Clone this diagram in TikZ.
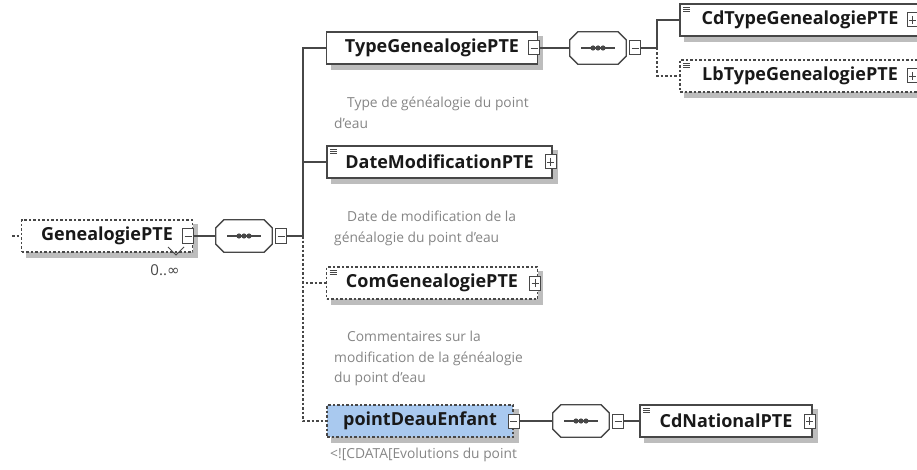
\documentclass[tikz,border=0pt]{standalone}
\usepackage{fontspec}
\setmainfont{Open Sans}
\newfontfamily\dvsans{DejaVu Sans}
\usetikzlibrary{backgrounds}

\definecolor{linegray}{HTML}{474747}
\definecolor{descgray}{HTML}{858585}
\definecolor{shadowgray}{HTML}{BDBDBD}
\definecolor{selblue}{HTML}{A9C9EF}

\begin{document}
\begin{tikzpicture}[x=1pt,y=-1pt,
    conn/.style={draw=linegray,line width=1.3pt},
    opt/.style={conn,dash pattern=on 2.5pt off 2pt},
    elem/.style={draw=linegray,line width=1.3pt,fill=white,minimum height=32pt,inner sep=0pt,
        text=black!90,font=\fontsize{18}{20}\selectfont\bfseries},
    optelem/.style={elem,dash pattern=on 2.5pt off 2pt},
    simple/.style={path picture={\foreach \k in {0,2,4}
        \draw[solid,linegray,line width=0.6pt] ([xshift=3pt,yshift={-(3+\k)*1pt}]path picture bounding box.north west) -- ++(7,0);}},
    pmbox/.style={draw=linegray,line width=1pt,fill=white,minimum width=11pt,minimum height=14pt,inner sep=0pt},
    minus/.style={pmbox,path picture={\draw[linegray,line width=0.9pt]
        ([xshift=2pt]path picture bounding box.west) -- ([xshift=-2pt]path picture bounding box.east);}},
    plus/.style={pmbox,path picture={\draw[linegray,line width=0.9pt]
        ([xshift=2pt]path picture bounding box.west) -- ([xshift=-2pt]path picture bounding box.east)
        ([yshift=-3pt]path picture bounding box.north) -- ([yshift=3pt]path picture bounding box.south);}},
    seq/.style={minimum width=56pt,minimum height=32pt,inner sep=0pt},
    desc/.style={anchor=north west,align=left,inner sep=0pt,text=descgray,font=\fontsize{13.8}{20.5}\selectfont},
    mult/.style={inner sep=0pt,text=linegray,font=\fontsize{15}{17}\selectfont}]
    \useasboundingbox (0,0) rectangle (917,470);
    \clip (0,0) rectangle (917,470);

    % root element
    \node[optelem,minimum width=171pt] (gen) at (107,236) {GenealogiePTE};
    \node[minus] (genm) at ([xshift=-5pt]gen.east) {};
    \node[mult] (genmult) at (165,270) {0..{\dvsans ∞}};
    \coordinate (genin) at (12,236);

    % children of the first sequence
    \node[seq] (seq1) at (244,236) {};
    \coordinate (bus1) at (303,236);

    \node[elem,minimum width=211pt] (type) at (432,48) {TypeGenealogiePTE};
    \node[minus] (typem) at ([xshift=-4pt]type.east) {};
    \node[desc] (typedoc) at (334,97) {\hspace*{13pt}Type de généalogie du point\\d'eau};

    \node[elem,simple,minimum width=225pt] (date) at (439.5,162) {DateModificationPTE};
    \node[plus] (datem) at ([xshift=-2pt]date.east) {};
    \node[desc] (datedoc) at (334,211) {\hspace*{13pt}Date de modification de la\\généalogie du point d'eau};

    \node[optelem,simple,minimum width=211pt] (com) at (432,283) {ComGenealogiePTE};
    \node[plus] (comm) at ([xshift=-3pt]com.east) {};
    \node[desc] (comdoc) at (334,331) {\hspace*{13pt}Commentaires sur la\\modification de la généalogie\\du point d'eau};

    \node[optelem,fill=selblue,minimum width=186pt] (pde) at (420,421) {pointDeauEnfant};
    \node[minus] (pdem) at (pde.east) {};
    \node[desc] (pdedoc) at (330,448) {<![CDATA[Evolutions du point};

    % second sequence
    \node[seq] (seq2) at (598,48) {};
    \coordinate (bus2) at (657,48);
    \node[elem,simple,minimum width=240pt] (cdtype) at (800,20) {CdTypeGenealogiePTE};
    \node[plus] (cdtypem) at ([xshift=-8pt]cdtype.east) {};
    \node[optelem,simple,minimum width=240pt] (lbtype) at (800,76) {LbTypeGenealogiePTE};
    \node[plus] (lbtypem) at ([xshift=-8pt]lbtype.east) {};

    % third sequence
    \node[seq] (seq3) at (581,421) {};
    \node[elem,simple,minimum width=172pt] (cdnat) at (726,421) {CdNationalPTE};
    \node[plus] (cdnatm) at ([xshift=-3pt]cdnat.east) {};

    % shadows
    \begin{scope}[on background layer]
        \foreach \n in {gen,type,date,com,pde,cdtype,lbtype,cdnat}
            \fill[shadowgray] ([shift={(5,5)}]\n.north west) rectangle ([shift={(5,5)}]\n.south east);
    \end{scope}
    \draw[linegray,line width=1pt] (168,247) -- (176,255) -- (184,247);

    % compositors
    \foreach \s in {seq1,seq2,seq3} {
        \fill[shadowgray,shift={(5,5)}] ([xshift=8pt]\s.north west) -- ([xshift=-8pt]\s.north east)
            -- ([yshift=-8pt]\s.north east) -- ([yshift=8pt]\s.south east) -- ([xshift=-8pt]\s.south east)
            -- ([xshift=8pt]\s.south west) -- ([yshift=8pt]\s.south west) -- ([yshift=-8pt]\s.north west) -- cycle;
        \draw[conn,fill=white] ([xshift=8pt]\s.north west) -- ([xshift=-8pt]\s.north east)
            -- ([yshift=-8pt]\s.north east) -- ([yshift=8pt]\s.south east) -- ([xshift=-8pt]\s.south east)
            -- ([xshift=8pt]\s.south west) -- ([yshift=8pt]\s.south west) -- ([yshift=-8pt]\s.north west) -- cycle;
        \draw[conn] ([xshift=-17pt]\s.center) -- ([xshift=17pt]\s.center);
        \foreach \d in {-5,0,5}
            \fill[linegray] ([xshift=\d*1pt]\s.center) circle (2.6);
    }
    \node[minus] (seq1m) at ([xshift=9pt]seq1.east) {};
    \node[minus] (seq2m) at ([xshift=9pt]seq2.east) {};
    \node[minus] (seq3m) at ([xshift=9pt]seq3.east) {};

    \draw[opt] (genin) -- (gen);
    \draw[conn] (genm) -- (seq1);
    \draw[conn] (seq1m) -- (bus1);
    \draw[conn] (bus1) |- (type);
    \draw[conn] (bus1) |- (date);
    \draw[opt] (bus1) |- (com);
    \draw[opt] (bus1) |- (pde);
    \draw[conn] (typem) -- (seq2);
    \draw[conn] (seq2m) -- (bus2);
    \draw[conn] (bus2) |- (cdtype);
    \draw[opt] (bus2) |- (lbtype);
    \draw[conn] (pdem) -- (seq3);
    \draw[conn] (seq3m) -- (cdnat);
\end{tikzpicture}
\end{document}
